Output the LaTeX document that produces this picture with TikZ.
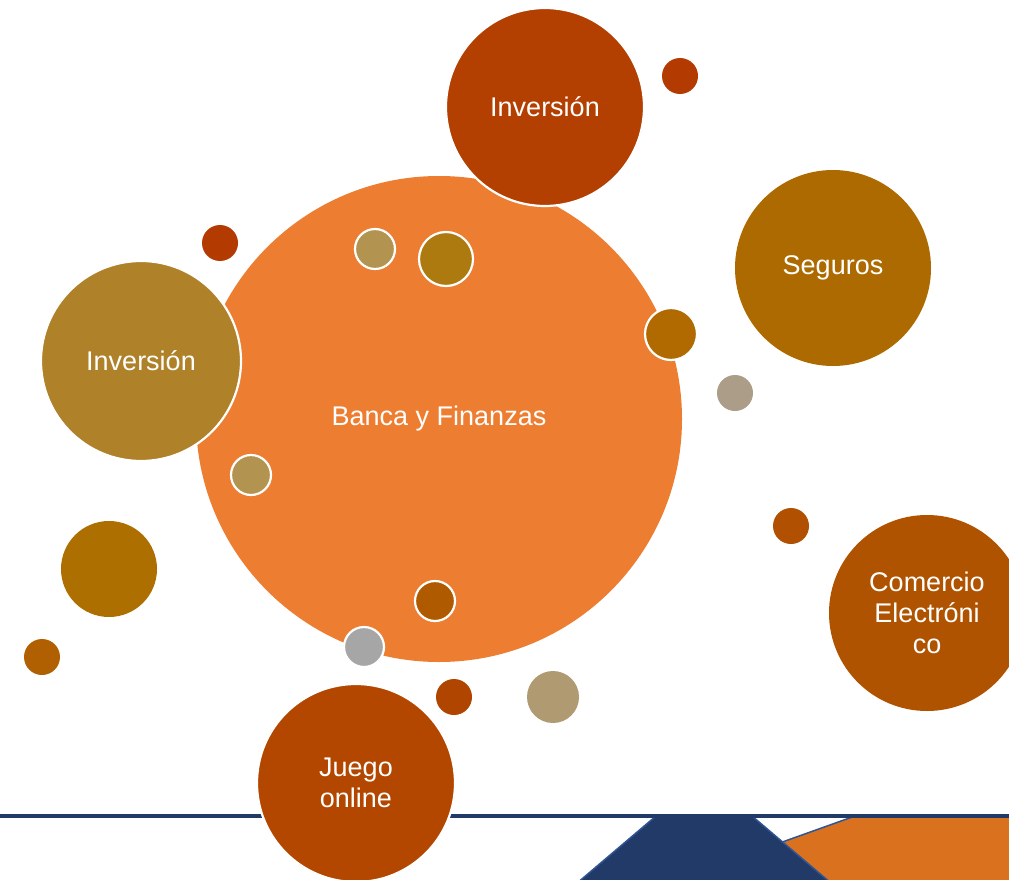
\documentclass[tikz,border=0pt]{standalone}
\usepackage{fontspec}
\setmainfont{Liberation Sans}
\definecolor{cmain}{HTML}{ED7D31}
\definecolor{cinvtop}{HTML}{B33F00}
\definecolor{cinvleft}{HTML}{AF8129}
\definecolor{cseg}{HTML}{AD6A00}
\definecolor{ccom}{HTML}{B05300}
\definecolor{cjue}{HTML}{B34700}
\definecolor{cnavy}{HTML}{213A67}
\definecolor{cnavyedge}{HTML}{2F5597}
\definecolor{corb}{HTML}{D9711F}
\definecolor{cdotred}{HTML}{B33A00}
\definecolor{ctan}{HTML}{B39350}
\definecolor{cgold}{HTML}{AD7A10}
\definecolor{cochre}{HTML}{B06A00}
\definecolor{cgreybrown}{HTML}{AB9D87}
\definecolor{cdark}{HTML}{AD6F00}
\definecolor{crust}{HTML}{B05A00}
\definecolor{cgrey}{HTML}{A6A6A6}
\definecolor{cred2}{HTML}{B04500}
\definecolor{csand}{HTML}{AF9A72}
\definecolor{cred3}{HTML}{B05000}
\definecolor{cred4}{HTML}{B06000}
\tikzset{
  bubble/.style={circle, inner sep=0pt, text=white, font=\fontsize{27}{31}\selectfont, align=center},
  rimmed/.style={bubble, draw=white, line width=2.2pt},
  dot/.style={circle, inner sep=0pt}
}
\begin{document}
\begin{tikzpicture}[x=1pt,y=-1pt]
\useasboundingbox (0,0) rectangle (1009,880);
\clip (0,0) rectangle (1009,880);
% bottom shapes
\fill[corb, draw=cnavyedge, line width=1.5pt] (760,850) -- (855,816) -- (1012,816) -- (1012,884) -- (800,884) -- cycle;
\filldraw[fill=cnavy, draw=cnavyedge, line width=1.5pt] (656,816) -- (752,816) -- (832,884) -- (576,884) -- cycle;
\coordinate (L1) at (0,816);
\coordinate (L2) at (1009,816);
\draw[cnavy, line width=3.2pt] (L1) -- (L2);
% main circle
\node[bubble, fill=cmain, minimum size=486pt] (main) at (439,419) {Banca y Finanzas};
% big bubbles
\node[rimmed, fill=cinvtop, minimum size=198pt] (invtop) at (545,107) {Inversión};
\node[rimmed, fill=cinvleft, minimum size=200pt] (invleft) at (141,361) {Inversión};
\node[bubble, fill=cseg, minimum size=196pt] (seg) at (833,268) {Seguros};
\node[bubble, fill=ccom, minimum size=196pt] (com) at (927,613) {Comercio\\Electróni\\co};
\node[rimmed, fill=cjue, minimum size=198pt] (jue) at (356,783) {Juego\\online};
% small dots
\node[dot, fill=cdotred, minimum size=36pt] (d1) at (680,76) {};
\node[dot, fill=cdotred, minimum size=36pt] (d2) at (220,243) {};
\node[rimmed, fill=ctan, minimum size=40pt] (d3) at (375,249) {};
\node[rimmed, fill=cgold, minimum size=54pt] (d4) at (446,259) {};
\node[rimmed, fill=cochre, minimum size=52pt] (d5) at (671,334) {};
\node[dot, fill=cgreybrown, minimum size=36pt] (d6) at (735,393) {};
\node[rimmed, fill=ctan, minimum size=40pt] (d7) at (251,475) {};
\node[dot, fill=cdark, minimum size=96pt] (d8) at (109,569) {};
\node[dot, fill=cred4, minimum size=36pt] (d9) at (42,657) {};
\node[rimmed, fill=crust, minimum size=40pt] (d10) at (435,601) {};
\node[rimmed, fill=cgrey, minimum size=40pt] (d11) at (364,647) {};
\node[dot, fill=cred2, minimum size=36pt] (d12) at (454,697) {};
\node[dot, fill=csand, minimum size=52pt] (d13) at (553,697) {};
\node[dot, fill=cred3, minimum size=36pt] (d14) at (791,526) {};
\end{tikzpicture}
\end{document}
